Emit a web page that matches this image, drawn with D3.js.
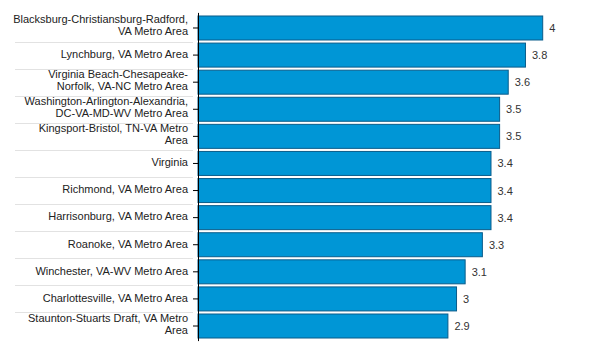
<!DOCTYPE html>
<html>
<head>
<meta charset="utf-8">
<script src="https://cdn.jsdelivr.net/npm/d3@7"></script>
<style>
  body { margin: 0; background: #fff; }
  svg { display: block; }
  text { font-family: "Liberation Sans", Arial, sans-serif; }
</style>
</head>
<body>
<svg id="chart" width="600" height="360"></svg>
<script>
const categories = [
  "Blacksburg-Christiansburg-Radford,\nVA Metro Area",
  "Lynchburg, VA Metro Area",
  "Virginia Beach-Chesapeake-\nNorfolk, VA-NC Metro Area",
  "Washington-Arlington-Alexandria,\nDC-VA-MD-WV Metro Area",
  "Kingsport-Bristol, TN-VA Metro\nArea",
  "Virginia",
  "Richmond, VA Metro Area",
  "Harrisonburg, VA Metro Area",
  "Roanoke, VA Metro Area",
  "Winchester, VA-WV Metro Area",
  "Charlottesville, VA Metro Area",
  "Staunton-Stuarts Draft, VA Metro\nArea"
];
const values = [4, 3.8, 3.6, 3.5, 3.5, 3.4, 3.4, 3.4, 3.3, 3.1, 3, 2.9];
const valueLabels = ["4", "3.8", "3.6", "3.5", "3.5", "3.4", "3.4", "3.4", "3.3", "3.1", "3", "2.9"];

const svg = d3.select("#chart");
const x0 = 198, x1 = 542.7;
const y = d3.scaleBand().domain(d3.range(categories.length)).range([12.9, 341.1]).padding(0.114);
const x = d3.scaleLinear().domain([0, 4]).range([x0, x1]);

// separator lines
const step = y.step();
svg.append("g").selectAll("line")
  .data(d3.range(1, categories.length))
  .join("line")
  .attr("x1", 15).attr("x2", 193)
  .attr("y1", i => Math.round(y(i) - step * y.paddingInner() / 2) + 0.5)
  .attr("y2", i => Math.round(y(i) - step * y.paddingInner() / 2) + 0.5)
  .attr("stroke", "#e2e2e2").attr("stroke-width", 1);

// bars
svg.append("g").selectAll("rect")
  .data(values)
  .join("rect")
  .attr("x", x(0))
  .attr("y", (d, i) => y(i))
  .attr("width", d => x(d) - x(0))
  .attr("height", y.bandwidth())
  .attr("fill", "#0096d6")
  .attr("stroke", "#0a5c8a")
  .attr("stroke-width", 1);

// value labels
svg.append("g").selectAll("text")
  .data(values)
  .join("text")
  .attr("x", d => x(d) + 6.5)
  .attr("y", (d, i) => y(i) + y.bandwidth() / 2 + 4)
  .attr("font-size", 11)
  .attr("fill", "#333")
  .text((d, i) => valueLabels[i]);

// axis
const axis = d3.axisLeft(y).tickSize(5).tickFormat("");
const ag = svg.append("g").attr("transform", `translate(${x0},0)`).call(axis);
ag.select(".domain").attr("stroke", "#000").attr("d", `M0.5,${y.range()[0]}V${y.range()[1]}`);
ag.selectAll(".tick line").attr("stroke", "#000");

// category labels
const lg = svg.append("g");
categories.forEach((c, i) => {
  const lines = c.split("\n");
  const cy = y(i) + y.bandwidth() / 2;
  const t = lg.append("text")
    .attr("text-anchor", "end")
    .attr("font-size", 11)
    .attr("fill", "#222");
  const start = lines.length === 1 ? 2.8 : -4.5;
  lines.forEach((ln, j) => {
    t.append("tspan").attr("x", 188).attr("y", cy + start + j * 12).text(ln);
  });
});
</script>
</body>
</html>
